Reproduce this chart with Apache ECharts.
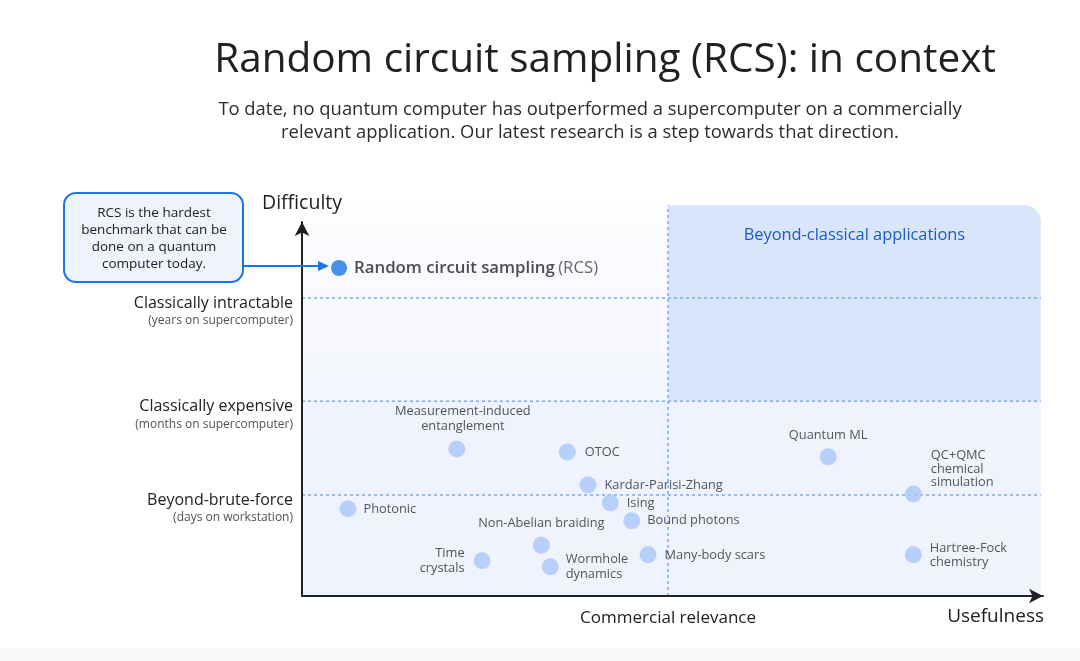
<!DOCTYPE html>
<html><head><meta charset="utf-8">
<script src="https://cdn.jsdelivr.net/npm/echarts@6/dist/echarts.min.js"></script>
<style>html,body{margin:0;padding:0;background:#fff;}#c{width:1080px;height:661px;}</style>
</head><body><div id="c"></div>
<script>
// ---- data ----
const pointNames = [
  'Measurement-induced\nentanglement', 'OTOC', 'Kardar-Parisi-Zhang', 'Ising', 'Bound photons',
  'Photonic', 'Non-Abelian braiding', 'Time\ncrystals', 'Wormhole\ndynamics', 'Many-body scars',
  'Quantum ML', 'QC+QMC\nchemical\nsimulation', 'Hartree-Fock\nchemistry'
];
const pointX = [20.9, 35.8, 38.6, 41.6, 44.5, 6.2, 32.3, 24.3, 33.5, 46.7, 71.0, 82.5, 82.5];
const pointY = [39.3, 38.5, 29.7, 24.9, 20.1, 23.3, 13.6, 9.4, 7.8, 11.0, 37.2, 27.3, 11.0];
const rcsName = 'Random circuit sampling';
const rcsX = 5.0, rcsY = 87.7;
const levelValues = [27.0, 52.1, 79.7];
const levelNames = ['Beyond-brute-force', 'Classically expensive', 'Classically intractable'];
const levelNotes = ['(days on workstation)', '(months on supercomputer)', '(years on supercomputer)'];
const relevanceThreshold = 49.4;
const regionTop = 104.5, regionRight = 99.7;

const FONT = '"Open Sans", Roboto, sans-serif';
const INK = '#202124', LABEL = '#2a2c30';

// label placement (style)
const labelPlace = {
  'Measurement-induced\nentanglement': {position: 'top', distance: 6, offset: [6, 0], align: 'center'},
  'OTOC': {position: 'right', distance: 9},
  'Kardar-Parisi-Zhang': {position: 'right', distance: 8},
  'Ising': {position: 'right', distance: 8},
  'Bound photons': {position: 'right', distance: 7},
  'Photonic': {position: 'right', distance: 7},
  'Non-Abelian braiding': {position: 'top', distance: 6, align: 'center'},
  'Time\ncrystals': {position: 'left', distance: 9, align: 'right'},
  'Wormhole\ndynamics': {position: 'right', distance: 7, align: 'left'},
  'Many-body scars': {position: 'right', distance: 8},
  'Quantum ML': {position: 'top', distance: 5, align: 'center'},
  'QC+QMC\nchemical\nsimulation': {position: 'right', distance: 9, offset: [0, -25], align: 'left', lineHeight: 13.5},
  'Hartree-Fock\nchemistry': {position: 'right', distance: 8, align: 'left', lineHeight: 14}
};

const regions = [
  [0, 0, regionRight, levelValues[1]],
  [0, levelValues[1], relevanceThreshold, regionTop],
  [relevanceThreshold, levelValues[1], regionRight, regionTop]
];
const regionFill = [
  '#eef3fd',
  new echarts.graphic.LinearGradient(0, 0, 0, 1, [{offset: 0, color: '#fdfdff'}, {offset: 1, color: '#f3f6fd'}]),
  '#d9e5fb'
];
const regionRadius = [0, 0, [0, 16, 0, 0]];

const dashLines = levelValues.map(v => [0, v, regionRight, v]).concat([[relevanceThreshold, 0, relevanceThreshold, regionTop]]);

const chart = echarts.init(document.getElementById('c'), null, {renderer: 'canvas'});

const option = {
  animation: false,
  backgroundColor: '#ffffff',
  grid: {left: 302, right: 37, top: 222, bottom: 65, containLabel: false},
  xAxis: {
    type: 'value', min: 0, max: 100, z: 10,
    axisLine: {show: true, symbol: ['none', 'arrow'], symbolSize: [11, 14], lineStyle: {color: INK, width: 2}},
    axisTick: {show: false}, splitLine: {show: false},
    axisLabel: {customValues: [relevanceThreshold], formatter: () => 'Commercial relevance', margin: 14,
      fontSize: 17, color: INK, fontFamily: FONT},
    name: 'Usefulness', nameLocation: 'end', nameGap: 1,
    nameTextStyle: {fontSize: 19, color: INK, fontFamily: FONT, align: 'right', verticalAlign: 'top', padding: [11, 0, 0, 0]}
  },
  yAxis: {
    type: 'value', min: 0, max: 100, z: 10,
    axisLine: {show: true, symbol: ['none', 'arrow'], symbolSize: [11, 14], lineStyle: {color: INK, width: 2}},
    axisTick: {show: false}, splitLine: {show: false},
    axisLabel: {
      customValues: levelValues, margin: 9, padding: [28, 0, 0, 0], align: 'right',
      formatter: (v) => {
        const i = levelValues.indexOf(v);
        return i < 0 ? '' : '{a|' + levelNames[i] + '}\n{b|' + levelNotes[i] + '}';
      },
      rich: {
        a: {fontSize: 16, color: INK, lineHeight: 18, fontFamily: FONT, align: 'right'},
        b: {fontSize: 12, color: '#4d5156', lineHeight: 17, fontFamily: FONT, align: 'right'}
      }
    },
    name: 'Difficulty', nameLocation: 'end', nameGap: 9,
    nameTextStyle: {fontSize: 19.5, color: INK, fontFamily: FONT}
  },
  series: [
    {
      type: 'custom', name: 'regions', z: 1, silent: true, clip: false,
      data: regions,
      renderItem: (params, api) => {
        const p0 = api.coord([api.value(0), api.value(1)]);
        const p1 = api.coord([api.value(2), api.value(3)]);
        const i = params.dataIndex;
        return {type: 'rect', shape: {x: p0[0], y: p1[1], width: p1[0] - p0[0], height: p0[1] - p1[1], r: regionRadius[i]},
          style: {fill: regionFill[i]}};
      }
    },
    {
      type: 'custom', name: 'dashes', z: 2, silent: true, clip: false,
      data: dashLines,
      renderItem: (params, api) => {
        const p0 = api.coord([api.value(0), api.value(1)]);
        const p1 = api.coord([api.value(2), api.value(3)]);
        return {type: 'line', shape: {x1: p0[0], y1: p0[1], x2: p1[0], y2: p1[1]},
          style: {stroke: '#7ea8ee', lineWidth: 1.5, lineDash: [3, 3]}};
      }
    },
    {
      type: 'scatter', name: 'experiments', z: 3, symbolSize: 17, silent: true,
      itemStyle: {color: '#aac7f8'},
      data: pointNames.map((n, i) => {
        const pl = labelPlace[n] || {position: 'right', distance: 8};
        return {
          name: n, value: [pointX[i], pointY[i]],
          label: {show: true, formatter: n, position: pl.position, distance: pl.distance, offset: pl.offset || [0, 0],
            align: pl.align, fontSize: 12.8, lineHeight: pl.lineHeight || 15.5, color: LABEL, fontFamily: FONT}
        };
      })
    },
    {
      type: 'scatter', name: 'rcs', z: 4, symbolSize: 16, silent: true,
      itemStyle: {color: '#1a73e8'},
      data: [{name: rcsName, value: [rcsX, rcsY]}],
      label: {show: true, position: 'right', distance: 7,
        formatter: '{b|' + rcsName + '} {n|(RCS)}',
        rich: {
          b: {fontSize: 16.8, fontWeight: 600, color: INK, fontFamily: FONT},
          n: {fontSize: 16.8, color: '#3c4043', fontFamily: FONT}
        }
      }
    }
  ]
};
chart.setOption(option);

const pr = chart.convertToPixel({gridIndex: 0}, [rcsX, rcsY]);
const pTop = chart.convertToPixel({gridIndex: 0}, [relevanceThreshold, regionTop]);
const pRight = chart.convertToPixel({gridIndex: 0}, [regionRight, regionTop]);
const tipX = pr[0] - 10, ay = pr[1] - 2;

chart.setOption({
  graphic: [
    {type: 'rect', z: 0, shape: {x: 0, y: 648, width: 1080, height: 13}, style: {fill: '#f8f8f8'}},
    {type: 'text', x: 605, y: 60, style: {text: 'Random circuit sampling (RCS): in context', align: 'center', verticalAlign: 'middle',
      fontSize: 40.5, fontFamily: FONT, fill: INK}},
    {type: 'text', x: 590, y: 121, style: {text: 'To date, no quantum computer has outperformed a supercomputer on a commercially\nrelevant application. Our latest research is a step towards that direction.',
      align: 'center', verticalAlign: 'middle', fontSize: 18.4, lineHeight: 23, fontFamily: FONT, fill: '#2a2c30'}},
    {type: 'text', x: (pTop[0] + pRight[0]) / 2, y: 235, z: 20, style: {text: 'Beyond-classical applications', align: 'center', verticalAlign: 'middle',
      fontSize: 16.4, fontWeight: 500, fontFamily: FONT, fill: '#1a5bc8'}},
    {type: 'rect', z: 20, shape: {x: 64, y: 193, width: 179, height: 89, r: 12}, style: {fill: '#eef3fd', stroke: '#1a73e8', lineWidth: 2}},
    {type: 'text', z: 21, x: 154, y: 238.5, style: {text: 'RCS is the hardest\nbenchmark that can be\ndone on a quantum\ncomputer today.',
      align: 'center', verticalAlign: 'middle', fontSize: 13.5, lineHeight: 17, fontFamily: FONT, fill: INK}},
    {type: 'polyline', z: 21, shape: {points: [[243, ay], [tipX - 9, ay]]}, style: {stroke: '#1a73e8', lineWidth: 2}},
    {type: 'polygon', z: 21, shape: {points: [[tipX - 11, ay - 5], [tipX, ay], [tipX - 11, ay + 5]]}, style: {fill: '#1a73e8'}}
  ]
});
</script>
</body></html>
